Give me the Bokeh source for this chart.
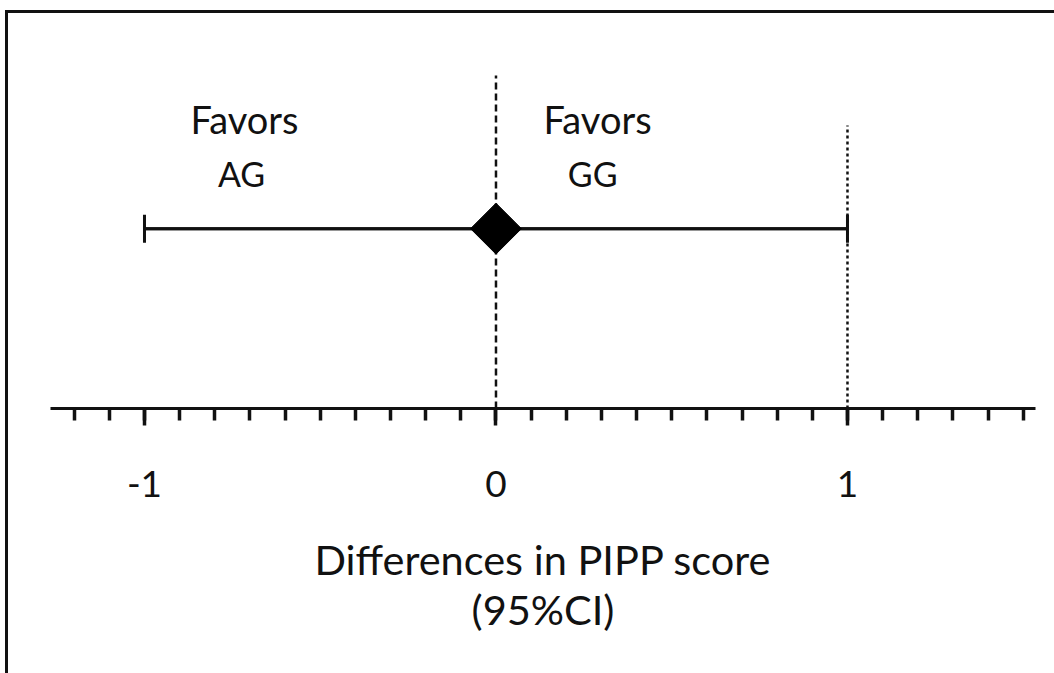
from bokeh.plotting import figure
from bokeh.models import Range1d, FixedTicker, Whisker, TeeHead, ColumnDataSource, InlineStyleSheet
from bokeh.core.properties import value
from bokeh.embed import file_html
from bokeh.resources import INLINE

# data
estimate = [0.0]
ci_lower = [-1.0]
ci_upper = [1.0]
row_y = [0.453]
major_ticks = [-1, 0, 1]
minor_ticks = [round(-1.2 + 0.1 * i, 1) for i in range(28)]
tick_labels = {-1: "-1", 0: "0", 1: "1"}
ref_x = [0.0, 1.0]
ref_top = [0.839, 0.713]
ref_dash = ["7 4", "3 3"]
side_labels_x = [-0.7155, 0.289]
side_top_y = [0.728, 0.728]
side_bottom_x = [-0.724, 0.275]
side_bottom_y = [0.592, 0.592]
side_top_text = ["Favors", "Favors"]
side_bottom_text = ["AG", "GG"]
axis_title = "Differences in PIPP score\n(95%CI)"

FONT = "Lato"
INK = "#111111"

p = figure(width=1054, height=673, output_backend="svg", toolbar_location=None,
           x_range=Range1d(-1.2674, 1.5349), y_range=Range1d(0, 1),
           min_border_left=50, min_border_right=19, min_border_top=11, min_border_bottom=265)
p.outline_line_color = None
p.grid.visible = False
p.yaxis.visible = False

ax = p.xaxis[0]
ax.ticker = FixedTicker(ticks=major_ticks, minor_ticks=minor_ticks)
ax.major_label_overrides = tick_labels
ax.axis_line_width = 3
ax.axis_line_color = INK
ax.major_tick_in = 0
ax.major_tick_out = 17
ax.minor_tick_in = 0
ax.minor_tick_out = 12
ax.major_tick_line_width = 3.5
ax.minor_tick_line_width = 3.5
ax.major_tick_line_color = INK
ax.minor_tick_line_color = INK
ax.major_label_text_font = FONT
ax.major_label_text_font_size = "37px"
ax.major_label_text_color = INK
ax.major_label_standoff = 45
ax.axis_label = axis_title
ax.axis_label_text_font = FONT
ax.axis_label_text_font_size = "41.5px"
ax.axis_label_text_font_style = "normal"
ax.axis_label_text_color = INK
ax.axis_label_text_line_height = 1.0
ax.axis_label_standoff = 34

# reference lines
for x, top, dash in zip(ref_x, ref_top, ref_dash):
    p.segment(x0=[x], y0=[0], x1=[x], y1=[top], line_color=INK, line_width=2.5, line_dash=dash)

# CI whisker
src = ColumnDataSource(dict(y=row_y, lower=ci_lower, upper=ci_upper, est=estimate))
p.segment(x0="lower", y0="y", x1="upper", y1="y", source=src, line_color=INK, line_width=3)
w = Whisker(source=src, base="y", lower="lower", upper="upper", dimension="width",
            line_color=INK, line_width=3,
            lower_head=TeeHead(size=28, line_width=3, line_color=INK),
            upper_head=TeeHead(size=28, line_width=3, line_color=INK))
p.add_layout(w)
p.scatter(x="est", y="y", source=src, marker="square", angle=0.785398, size=36,
          fill_color="black", line_color="black")

# side labels
p.text(x=side_labels_x, y=side_top_y, text=side_top_text, text_font=value(FONT),
       text_font_size="38px", text_align="center", text_baseline="alphabetic", text_color=INK)
p.text(x=side_bottom_x, y=side_bottom_y, text=side_bottom_text, text_font=value(FONT),
       text_font_size="34px", text_align="center", text_baseline="alphabetic", text_color=INK)

# outer frame (top and left border of the picture)
p.stylesheets = [InlineStyleSheet(css=""":host { position: relative; }
:host::after { content: ''; position: absolute; left: 5px; top: 10px; right: 0; bottom: 0;
  border-top: 3px solid #111; border-left: 3px solid #111; pointer-events: none; z-index: 10; }""")]

open("out.html", "w").write(file_html(p, INLINE))
